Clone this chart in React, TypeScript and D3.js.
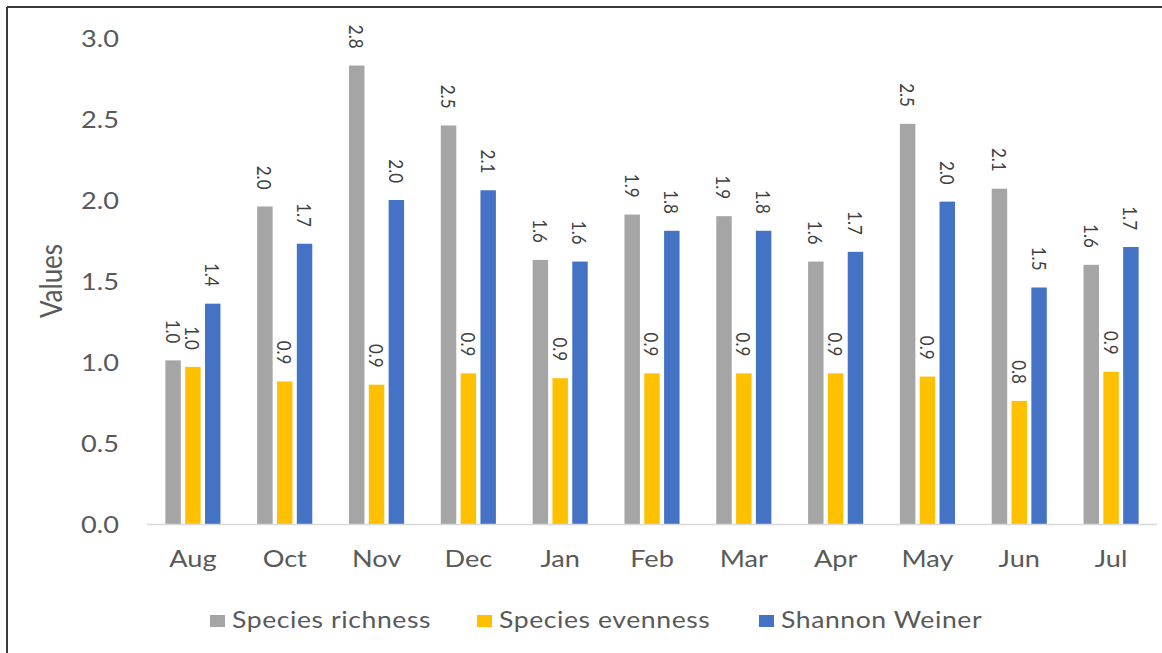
import React from "react";
import * as d3 from "d3";

// Monthly diversity indices
const months = ["Aug", "Oct", "Nov", "Dec", "Jan", "Feb", "Mar", "Apr", "May", "Jun", "Jul"];
const speciesRichness = [1.01, 1.96, 2.83, 2.46, 1.63, 1.91, 1.9, 1.62, 2.47, 2.07, 1.6];
const speciesEvenness = [0.97, 0.88, 0.86, 0.93, 0.9, 0.93, 0.93, 0.93, 0.91, 0.76, 0.94];
const shannonWeiner = [1.36, 1.73, 2.0, 2.06, 1.62, 1.81, 1.81, 1.68, 1.99, 1.46, 1.71];
const seriesNames = ["Species richness", "Species evenness", "Shannon Weiner"];
const seriesColors = ["#A5A5A5", "#FFC000", "#4472C4"];
const yTicks = [0, 0.5, 1.0, 1.5, 2.0, 2.5, 3.0];

const W = 1162;
const H = 653;
const FONT = "Lato, 'Open Sans', sans-serif";
const SX = 1.18; // horizontal text stretch
const TEXT = "#595959";

export default function App() {
  const series = [speciesRichness, speciesEvenness, shannonWeiner];

  const x = d3.scaleBand<string>().domain(months).range([147, 1157]).paddingInner(0.4).paddingOuter(0.2);
  const xs = d3
    .scaleBand<string>()
    .domain(seriesNames)
    .range([0, x.bandwidth()])
    .paddingInner(0.22)
    .paddingOuter(0);
  const y = d3.scaleLinear().domain([0, 3]).range([524, 38]);
  const fmt = d3.format(".1f");

  const legendX = [210, 477, 759];

  return (
    <svg
      width={W}
      height={H}
      viewBox={`0 0 ${W} ${H}`}
      style={{ position: "absolute", left: 0, top: 0, background: "#fff" }}
      fontFamily={FONT}
    >
      <rect x={0} y={0} width={W} height={H} fill="#fff" />
      {/* outer frame */}
      <line x1={7} y1={7} x2={W} y2={7} stroke="#3a3a3a" strokeWidth={2} />
      <line x1={7} y1={7} x2={7} y2={H} stroke="#3a3a3a" strokeWidth={2} />

      {/* y tick labels */}
      {yTicks.map((t) => (
        <text
          key={t}
          transform={`translate(119,${y(t)}) scale(${SX},1)`}
          textAnchor="end"
          dominantBaseline="central"
          fontSize={23}
          fill={TEXT}
        >
          {fmt(t)}
        </text>
      ))}

      {/* y axis title */}
      <text
        transform={`translate(50,281) scale(${SX},1) rotate(-90)`}
        textAnchor="middle"
        dominantBaseline="central"
        fontSize={26}
        fill={TEXT}
      >
        Values
      </text>

      {/* bars */}
      {months.map((m, i) => (
        <g key={m} transform={`translate(${x(m)},0)`}>
          {series.map((vals, s) => {
            const v = vals[i];
            const bx = xs(seriesNames[s])!;
            const bw = xs.bandwidth();
            return (
              <g key={s}>
                <rect x={bx} y={y(v)} width={bw} height={y(0) - y(v)} fill={seriesColors[s]} />
                <text
                  transform={`translate(${bx + bw / 2},${y(v) - 17}) scale(${SX},1) rotate(90)`}
                  textAnchor="end"
                  dominantBaseline="central"
                  fontSize={17}
                  fill="#404040"
                >
                  {fmt(v)}
                </text>
              </g>
            );
          })}
        </g>
      ))}

      {/* category axis */}
      <line x1={147} x2={1157} y1={y(0) + 0.5} y2={y(0) + 0.5} stroke="#D9D9D9" strokeWidth={1.5} />
      {months.map((m) => (
        <text
          key={m}
          transform={`translate(${x(m)! + x.bandwidth() / 2},567) scale(${SX},1)`}
          textAnchor="middle"
          fontSize={23}
          fill={TEXT}
        >
          {m}
        </text>
      ))}

      {/* legend */}
      {seriesNames.map((name, s) => (
        <g key={name} transform={`translate(${legendX[s]},0)`}>
          <rect x={0} y={615} width={15} height={12} fill={seriesColors[s]} />
          <text
            transform={`translate(22,628) scale(${SX},1)`}
            fontSize={22.5}
            letterSpacing={0.5}
            fill={TEXT}
          >
            {name}
          </text>
        </g>
      ))}
    </svg>
  );
}
